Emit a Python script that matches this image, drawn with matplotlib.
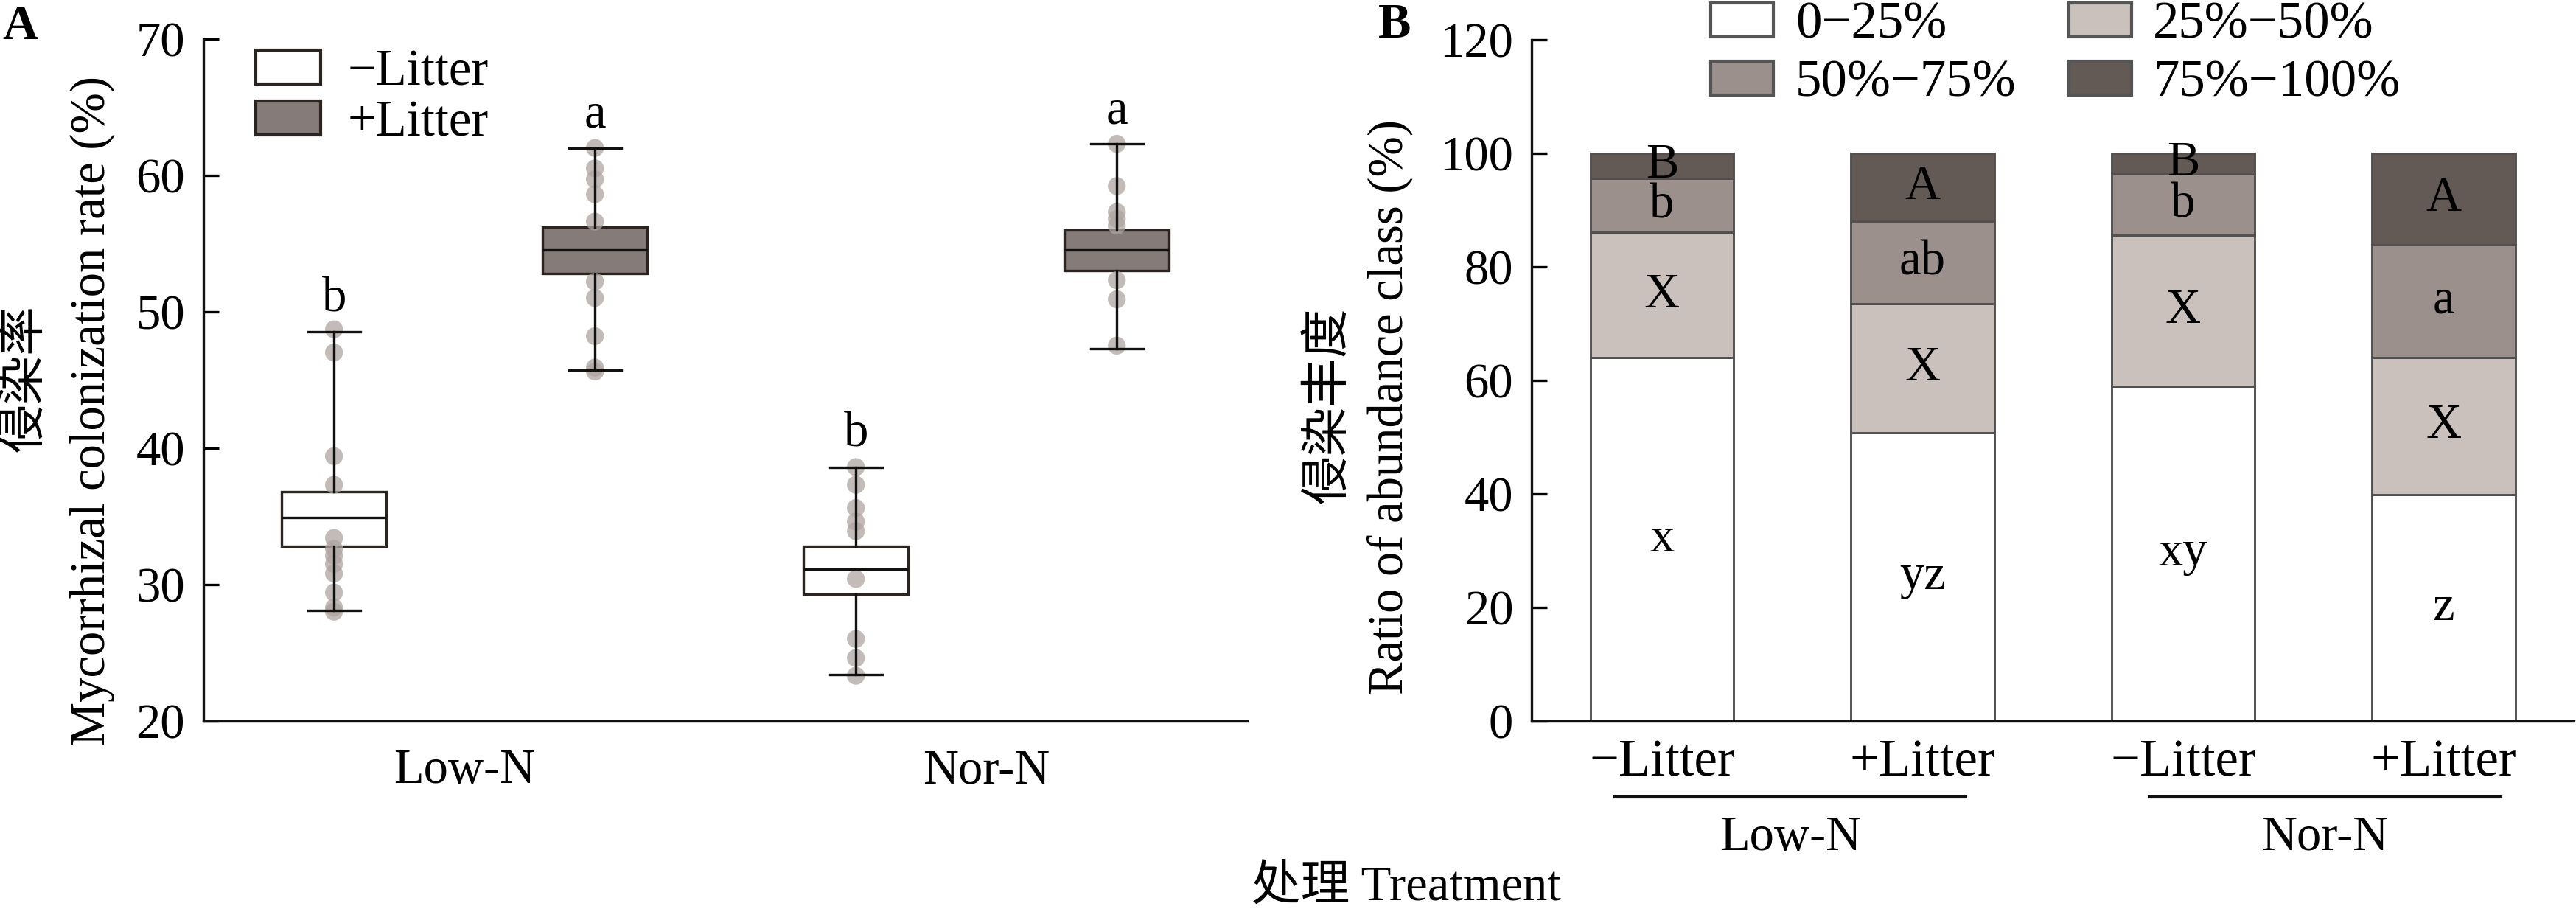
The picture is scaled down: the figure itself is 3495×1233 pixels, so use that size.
import matplotlib
matplotlib.use('Agg')
import numpy as np
from matplotlib import pyplot as plt
from matplotlib.patches import Patch

plt.rcParams['font.family'] = ['Liberation Serif', 'Noto Sans CJK SC']

# ---- panel A data ----
nitrogen = ['Low-N', 'Nor-N']
litter = ['\u2212Litter', '+Litter']
# box stats: (whislo, q1, med, q3, whishi)
box_lowN_minus = [28.1, 32.8, 34.9, 36.8, 48.5]
box_lowN_plus = [45.7, 52.8, 54.5, 56.2, 62.0]
box_norN_minus = [23.4, 29.3, 31.1, 32.8, 38.6]
box_norN_plus = [47.3, 53.0, 54.5, 56.0, 62.3]
pts_lowN_minus = [48.7, 47.0, 39.4, 37.3, 33.4, 32.6, 32.1, 31.5, 30.8, 29.4, 28.3, 28.0]
pts_lowN_plus = [62.0, 60.5, 59.7, 58.6, 56.6, 52.2, 51.0, 48.2, 45.9, 45.6]
pts_norN_minus = [38.6, 37.3, 35.6, 34.6, 33.9, 30.4, 26.0, 24.6, 23.3]
pts_norN_plus = [62.3, 59.2, 57.3, 56.8, 56.3, 52.3, 50.9, 47.5]
letters_A = ['b', 'a', 'b', 'a']

# ---- panel B data ----
bar_labels = ['\u2212Litter', '+Litter', '\u2212Litter', '+Litter']
classes = ['0\u221225%', '25%\u221250%', '50%\u221275%', '75%\u2212100%']
c0_25 = [64.0, 50.7, 58.9, 39.8]
c25_50 = [22.0, 22.8, 26.6, 24.2]
c50_75 = [9.5, 14.5, 10.8, 19.8]
c75_100 = [4.5, 12.0, 3.7, 16.2]
let0_25 = ['x', 'yz', 'xy', 'z']
let25_50 = ['X', 'X', 'X', 'X']
let50_75 = ['b', 'ab', 'b', 'a']
let75_100 = ['B', 'A', 'B', 'A']

box_colors = ['white', '#857b79']
bar_colors = ['white', '#cac1bd', '#9b908b', '#645a55']
dark = '#2b2420'

fig = plt.figure(figsize=(3495/300, 1233/300), dpi=300)

# ================= panel A =================
axA = fig.add_axes([0.0790, 0.2071, 0.4052, 0.7502])
stats = [box_lowN_minus, box_lowN_plus, box_norN_minus, box_norN_plus]
pts = [pts_lowN_minus, pts_lowN_plus, pts_norN_minus, pts_norN_plus]
pos = []
for g in range(len(nitrogen)):
    pos += [g - 0.25, g + 0.25]
bxp_stats = []
for s in stats:
    bxp_stats.append(dict(whislo=s[0], q1=s[1], med=s[2], q3=s[3], whishi=s[4], fliers=[]))
lw = 0.8
res = axA.bxp(bxp_stats, positions=pos, widths=0.2, patch_artist=True,
              showfliers=False, manage_ticks=False,
              boxprops=dict(edgecolor=dark, linewidth=lw),
              medianprops=dict(color='#111111', linewidth=lw, zorder=4),
              whiskerprops=dict(color='#111111', linewidth=lw, zorder=4),
              capprops=dict(color='#111111', linewidth=lw, zorder=4), capwidths=0.1)
for i, b in enumerate(res['boxes']):
    b.set_facecolor(box_colors[i % 2])
    b.set_zorder(2)
for i, p in enumerate(pts):
    axA.scatter([pos[i]] * len(p), p, s=34, color='#aea5a1', alpha=0.75,
                edgecolors='none', zorder=3)
for i, s in enumerate(stats):
    axA.text(pos[i], s[4] + 1.5, letters_A[i], ha='center', va='baseline', fontsize=16)

axA.set_xlim(-0.5, 1.5)
axA.set_ylim(20, 70)
axA.set_yticks(np.arange(20, 71, 10))
axA.set_xticks(range(len(nitrogen)))
axA.set_xticklabels(nitrogen)
axA.tick_params(axis='y', direction='in', length=5, width=0.8, labelsize=16, pad=6)
axA.tick_params(axis='x', length=0, labelsize=16, pad=9)
for sp in ['top', 'right']:
    axA.spines[sp].set_visible(False)
for sp in ['left', 'bottom']:
    axA.spines[sp].set_linewidth(0.8)
    axA.spines[sp].set_color('#111111')

handlesA = [Patch(facecolor=box_colors[i], edgecolor=dark, linewidth=1.0, label=litter[i])
            for i in range(2)]
axA.legend(handles=handlesA, loc='upper left', bbox_to_anchor=(0.05, 0.985), frameon=False,
           fontsize=16.5, handlelength=1.28, handleheight=0.65, handletextpad=0.54,
           labelspacing=0.08, borderpad=0, borderaxespad=0)

fig.text(0.010, 0.584, '侵染率', rotation=90, ha='center', va='center', fontsize=16)
fig.text(0.0358, 0.548, 'Mycorrhizal colonization rate (%)', rotation=90,
         ha='center', va='center', fontsize=16)
fig.text(0.0078, 0.970, 'A', ha='center', va='center', fontsize=16, fontweight='bold')

# ================= panel B =================
axB = fig.add_axes([0.5946, 0.2072, 0.4046, 0.7494])
x = np.arange(len(bar_labels))
segs = [c0_25, c25_50, c50_75, c75_100]
lets = [let0_25, let25_50, let50_75, let75_100]
bottom = np.zeros(len(x))
for k, seg in enumerate(segs):
    axB.bar(x, seg, width=0.55, bottom=bottom, color=bar_colors[k],
            edgecolor='#505050', linewidth=0.7, label=classes[k], zorder=2)
    for i in range(len(x)):
        axB.text(x[i], bottom[i] + seg[i] / 2, lets[k][i], ha='center', va='center',
                 fontsize=16, zorder=3)
    bottom = bottom + np.array(seg)

axB.set_xlim(-0.5, 3.5)
axB.set_ylim(0, 120)
axB.set_yticks(np.arange(0, 121, 20))
axB.set_xticks(x)
axB.set_xticklabels(bar_labels)
axB.tick_params(axis='y', direction='in', length=5, width=0.8, labelsize=16, pad=6)
axB.tick_params(axis='x', length=0, labelsize=17, pad=6)
for sp in ['top', 'right']:
    axB.spines[sp].set_visible(False)
for sp in ['left', 'bottom']:
    axB.spines[sp].set_linewidth(0.8)
    axB.spines[sp].set_color('#111111')

order = [0, 2, 1, 3]
handlesB = [Patch(facecolor=bar_colors[k], edgecolor='#555555', linewidth=1.0,
                  label=classes[k]) for k in order]
axB.legend(handles=handlesB, loc='upper left', bbox_to_anchor=(0.172, 1.056), ncol=2,
           frameon=False, fontsize=17, handlelength=1.2, handleheight=0.62,
           handletextpad=0.42, labelspacing=0.2, columnspacing=1.0,
           borderpad=0, borderaxespad=0)

# group lines under the x labels
groups = [(-0.18, 1.165, 'Low-N'), (1.87, 3.22, 'Nor-N')]
for x0, x1, name in groups:
    axB.plot([x0, x1], [-0.112, -0.112], color='#111111', lw=1.0,
             transform=axB.get_xaxis_transform(), clip_on=False)
    axB.text((x0 + x1) / 2, -0.172, name, ha='center', va='center', fontsize=16,
             transform=axB.get_xaxis_transform())

fig.text(0.516, 0.554, '侵染丰度', rotation=90, ha='center', va='center', fontsize=16)
fig.text(0.5396, 0.552, 'Ratio of abundance class (%)', rotation=90,
         ha='center', va='center', fontsize=16)
fig.text(0.5413, 0.972, 'B', ha='center', va='center', fontsize=16, fontweight='bold')

fig.text(0.546, 0.0235, '处理 Treatment', ha='center', va='center', fontsize=16)

fig.savefig('out.png', dpi=300)
